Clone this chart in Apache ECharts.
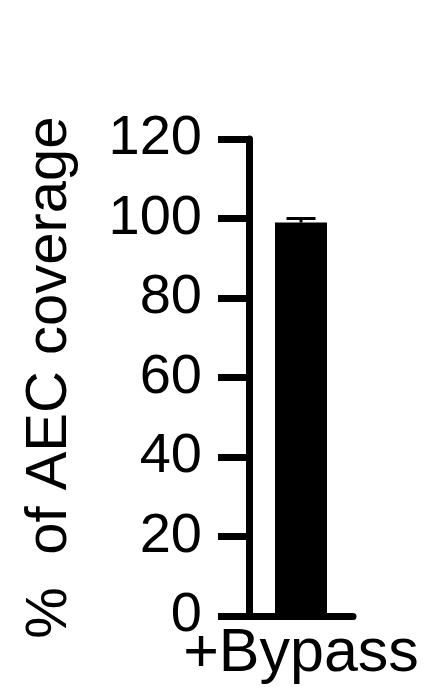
<!DOCTYPE html>
<html>
<head>
<meta charset="utf-8">
<script src="https://cdn.jsdelivr.net/npm/echarts@6/dist/echarts.min.js"></script>
<style>
html,body{margin:0;padding:0;background:#fff;}
#chart{width:445px;height:700px;}
</style>
</head>
<body>
<div id="chart"></div>
<script>
var categories = ['+Bypass'];
var coverageValues = [99];
var coverageErrors = [1];
var yTicks = [0, 20, 40, 60, 80, 100, 120];
var yAxisTitle = '%  of AEC coverage';

var FONT = '"Liberation Sans", Arial, sans-serif';
var chart = echarts.init(document.getElementById('chart'), null, {renderer: 'canvas'});

var errorData = categories.map(function (c, i) {
  return [i, coverageValues[i], coverageValues[i] + coverageErrors[i]];
});

chart.setOption({
  animation: false,
  backgroundColor: '#fff',
  grid: {left: 249, right: 92, top: 139, bottom: 84, containLabel: false},
  xAxis: {
    type: 'category',
    data: categories,
    axisLine: {show: true, lineStyle: {color: '#000', width: 7}},
    axisTick: {show: false},
    axisLabel: {color: '#000', fontSize: 61, fontFamily: FONT, margin: 8}
  },
  yAxis: {
    type: 'value',
    min: yTicks[0],
    max: yTicks[yTicks.length - 1],
    interval: 20,
    name: yAxisTitle,
    nameLocation: 'middle',
    nameRotate: 90,
    nameGap: 170,
    nameTextStyle: {color: '#000', fontSize: 58, fontFamily: FONT},
    axisLine: {show: true, lineStyle: {color: '#000', width: 7}},
    axisTick: {show: true, length: 31, lineStyle: {color: '#000', width: 7}},
    axisLabel: {color: '#000', fontSize: 56, fontFamily: FONT, margin: 47},
    splitLine: {show: false}
  },
  series: [
    {
      type: 'bar',
      data: coverageValues,
      barWidth: '50%',
      itemStyle: {color: '#000'}
    },
    {
      type: 'custom',
      data: errorData,
      z: 5,
      renderItem: function (params, api) {
        var x = api.value(0);
        var lo = api.coord([x, api.value(1)]);
        var hi = api.coord([x, api.value(2)]);
        var half = 14.5;
        return {
          type: 'group',
          children: [
            {type: 'line', shape: {x1: lo[0], y1: lo[1], x2: hi[0], y2: hi[1]}, style: {stroke: '#000', lineWidth: 3}},
            {type: 'line', shape: {x1: hi[0] - half, y1: hi[1], x2: hi[0] + half, y2: hi[1]}, style: {stroke: '#000', lineWidth: 3}}
          ]
        };
      }
    }
  ]
});
</script>
</body>
</html>
